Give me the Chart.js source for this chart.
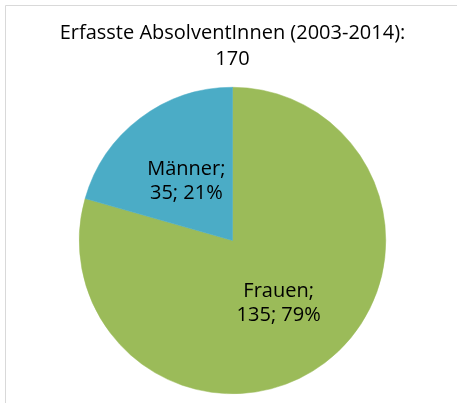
<!DOCTYPE html>
<html>
<head>
<meta charset="utf-8">
<script src="https://cdn.jsdelivr.net/npm/chart.js@4/dist/chart.umd.min.js"></script>
<style>
  body { margin: 0; background: #fff; }
</style>
</head>
<body>
<canvas id="pieChart" width="457" height="403"></canvas>
<script>
var kategorien = ['Frauen', 'Männer'];
var werte = [135, 35];
var farben = ['#9BBB59', '#4BACC6'];
var titelZeilen = ['Erfasste AbsolventInnen (2003-2014):', '170'];

var schrift = "'Open Sans', 'DejaVu Sans', sans-serif";

// Rahmen um das Diagramm (wie im Excel-Original)
var rahmenPlugin = {
    id: 'rahmen',
    beforeDraw: function (chart) {
        var ctx = chart.ctx;
        ctx.save();
        ctx.fillStyle = '#fff';
        ctx.fillRect(0, 0, chart.width, chart.height);
        ctx.strokeStyle = '#d9d9d9';
        ctx.lineWidth = 1;
        ctx.beginPath();
        ctx.moveTo(5.5, chart.height);
        ctx.lineTo(5.5, 5.5);
        ctx.lineTo(chart.width, 5.5);
        ctx.stroke();
        ctx.restore();
    }
};

// Beschriftung der Segmente: "Name; Wert; Prozent"
var etikettPlugin = {
    id: 'etiketten',
    afterDatasetsDraw: function (chart) {
        var ctx = chart.ctx;
        var meta = chart.getDatasetMeta(0);
        var summe = werte.reduce(function (a, b) { return a + b; }, 0);
        ctx.save();
        ctx.font = '20px ' + schrift;
        ctx.fillStyle = '#000';
        ctx.textAlign = 'center';
        ctx.textBaseline = 'middle';
        meta.data.forEach(function (arc, i) {
            var pos = arc.tooltipPosition();
            var prozent = Math.round(werte[i] / summe * 100);
            ctx.fillText(kategorien[i] + ';', pos.x, pos.y - 10);
            ctx.fillText(werte[i] + '; ' + prozent + '%', pos.x, pos.y + 14);
        });
        ctx.restore();
    }
};

var ctx = document.getElementById('pieChart');
var config = {
    type: 'pie',
    data: {
        labels: kategorien,
        datasets: [{
            data: werte,
            backgroundColor: farben,
            borderColor: farben,
            borderWidth: 0.5
        }]
    },
    options: {
        responsive: false,
        animation: false,
        layout: {
            padding: { top: 20, bottom: 9, left: 8, right: 0 }
        },
        plugins: {
            legend: { display: false },
            tooltip: { enabled: false },
            title: {
                display: true,
                text: titelZeilen,
                color: '#000',
                font: { family: schrift, size: 20, weight: 'normal', lineHeight: 1.3 },
                padding: { top: 0, bottom: 15 }
            }
        }
    },
    plugins: [rahmenPlugin, etikettPlugin]
};
new Chart(ctx, config);
</script>
</body>
</html>
